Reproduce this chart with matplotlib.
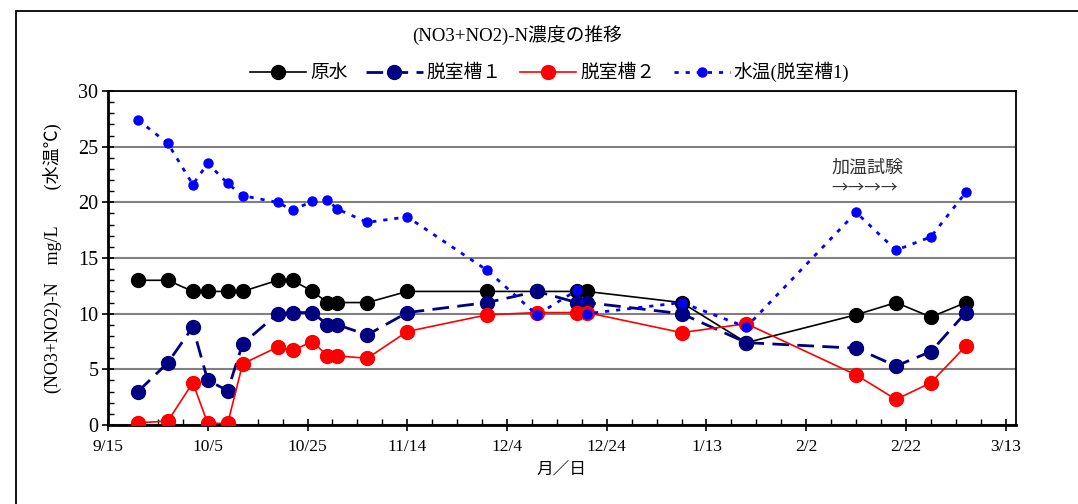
import datetime as dt

import matplotlib
matplotlib.use("Agg")
import matplotlib.pyplot as plt
from matplotlib.patches import Rectangle

plt.rcParams['font.family'] = ['Liberation Serif', 'Noto Sans CJK JP']

# sampling dates (season 2011-2012)
dates = ['9/21', '9/27', '10/2', '10/5', '10/9', '10/12', '10/19', '10/22', '10/26', '10/29',
         '10/31', '11/6', '11/14', '11/30', '12/10', '12/18', '12/20', '1/8', '1/21', '2/12',
         '2/20', '2/27', '3/5']

raw_water = [13.0, 13.0, 12.0, 12.0, 12.0, 12.0, 13.0, 13.0, 12.0, 11.0,
             11.0, 11.0, 12.0, 12.0, 12.0, 12.0, 12.0, 11.0, 7.4, 9.9,
             11.0, 9.7, 11.0]
tank1 = [3.0, 5.6, 8.8, 4.0, 3.1, 7.3, 10.0, 10.1, 10.1, 9.0,
         9.0, 8.1, 10.1, 11.0, 12.0, 11.0, 11.0, 10.0, 7.4, 6.9,
         5.3, 6.6, 10.1]
tank2 = [0.2, 0.35, 3.8, 0.15, 0.15, 5.5, 7.0, 6.7, 7.5, 6.2,
         6.2, 6.0, 8.4, 9.9, 10.1, 10.1, 10.1, 8.3, 9.1, 4.5,
         2.3, 3.8, 7.1]
water_temp = [27.4, 25.3, 21.6, 23.5, 21.7, 20.6, 20.0, 19.3, 20.1, 20.2,
              19.4, 18.2, 18.7, 13.9, 9.9, 12.1, 10.0, 11.0, 8.8, 19.1,
              15.7, 16.9, 20.9]


def to_date(s):
    m, d = (int(v) for v in s.split('/'))
    return dt.date(2011 if m >= 9 else 2012, m, d)


x = [to_date(s) for s in dates]

fig = plt.figure(figsize=(10.78, 5.04), dpi=100)
ax = fig.add_axes([0.1002, 0.1567, 0.8420, 0.6627])

# outer chart frame
fig.patches.append(Rectangle((16 / 1078, -0.2), 1.2, (504 - 11) / 504 + 0.2,
                             transform=fig.transFigure, fill=False,
                             edgecolor='black', linewidth=1.3))

ax.plot(x, raw_water, color='black', linewidth=1.2, marker='o',
        markersize=10, label='原水', zorder=3)
ax.plot(x, tank1, color='#000080', linewidth=2.0, linestyle=(0, (6, 3)),
        marker='o', markersize=10, label='脱室槽１', zorder=3)
ax.plot(x, tank2, color='#ff0000', linewidth=1.2, marker='o',
        markersize=10, label='脱室槽２', zorder=3)
ax.plot(x, water_temp, color='#0000ff', linewidth=2.0, linestyle=(0, (1.5, 2.5)),
        marker='o', markersize=6.5, label='水温(脱室槽1)', zorder=4)

start = dt.date(2011, 9, 15)
ax.set_xlim(start, dt.date(2012, 3, 15))
ax.set_ylim(0, 30)

major = [start + dt.timedelta(days=20 * i) for i in range(10)]
minor = [start + dt.timedelta(days=5 * i) for i in range(37)]
ax.set_xticks(major)
ax.set_xticklabels([f'{d.month}/{d.day}' for d in major], fontsize=12.5)
ax.set_xticks(minor, minor=True)
ax.set_yticks(range(0, 31, 5))
ax.set_yticks(range(0, 31), minor=True)
ax.tick_params(axis='y', labelsize=14.5)

ax.tick_params(which='major', direction='inout', length=8, width=1.2, pad=3)
ax.tick_params(which='minor', direction='in', length=4, width=1.0)
ax.tick_params(axis='x', which='major', pad=6)

ax.yaxis.grid(True, color='#808080', linewidth=1.5)
ax.set_axisbelow(True)
for side in ['left', 'bottom']:
    ax.spines[side].set_linewidth(2.0)
for side in ['top', 'right']:
    ax.spines[side].set_linewidth(1.3)

ax.set_xlabel('月／日', fontsize=12, labelpad=5)
ax.set_ylabel('(NO3+NO2)-N　mg/L　　(水温℃)', fontsize=13, labelpad=12)

ax.text(dt.date(2012, 2, 7), 22.7, '加温試験', fontsize=13, color='#333333')
ax.text(dt.date(2012, 2, 7), 20.9, '→→→→', fontsize=12, color='#333333',
        family=['Noto Sans CJK JP'])

fig.text(0.48, 0.93, '(NO3+NO2)-N濃度の推移', ha='center', va='center', fontsize=13.5)
fig.legend(loc='center', bbox_to_anchor=(0.51, 0.857), ncol=4, frameon=False,
           fontsize=13.5, handlelength=3.0, columnspacing=1.0, handletextpad=0.2)

fig.savefig('out.png', dpi=100)
